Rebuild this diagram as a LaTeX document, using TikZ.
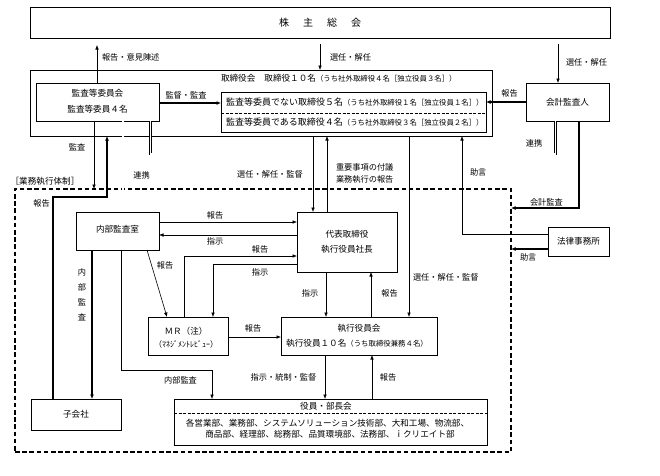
\documentclass[tikz,border=0pt]{standalone}
\usepackage{fontspec}
\setmainfont{Noto Sans CJK JP}
\usetikzlibrary{arrows.meta}
\newcommand\tinyj{\fontsize{7.4}{8}\selectfont}
\begin{document}
\begin{tikzpicture}[x=1pt,y=-1pt,
  every node/.style={font=\fontsize{8.6}{10}\selectfont, inner sep=0pt, outer sep=0pt},
  box/.style={draw, line width=0.7pt},
  ln/.style={line width=0.6pt},
  arr/.style={line width=0.6pt, -{Latex[length=4.5pt,width=3.6pt]}},
  tarr/.style={line width=1.3pt, -{Latex[length=4.5pt,width=4pt]}},
  dbl/.style={double, double distance=1.8pt, line width=0.5pt},
  divl/.style={line width=0.6pt, dash pattern=on 3pt off 1.5pt},
  lbl/.style={font=\fontsize{8.2}{10}\selectfont},
  rowt/.style={font=\fontsize{9}{10}\selectfont}
]
\useasboundingbox[fill=white] (0,0) rectangle (660,475);

% ---------- boxes ----------
\node[box, minimum width=580pt, minimum height=31pt] (sh) at (320,22.5)
  {\fontsize{10}{12}\selectfont 株\hspace{14pt}主\hspace{14pt}総\hspace{14pt}会};
\node[box, minimum width=462pt, minimum height=66pt] (board) at (261,103) {};
\node[anchor=west] (bt) at (221,78)
  {取締役会\hspace{9pt}取締役１０名{\tinyj（うち社外取締役４名［独立役員３名］）}};
\node[box, fill=white, minimum width=123pt, minimum height=38pt] (cmte) at (97.5,102) {};
\node (cmte1) at (97.5,93) {監査等委員会};
\node (cmte2) at (97.5,109) {監査等委員４名};
\node[box, minimum width=265pt, minimum height=40pt] (inner) at (353.5,112) {};
\draw[divl] (inner.west |- 0,113) -- (inner.east |- 0,113);
\node[rowt, anchor=west] (in1) at (226,102.5)
  {監査等委員でない取締役５名{\tinyj（うち社外取締役１名［独立役員１名］）}};
\node[rowt, anchor=west] (in2) at (226,122.5)
  {監査等委員である取締役４名{\tinyj（うち社外取締役３名［独立役員２名］）}};
\node[box, minimum width=83pt, minimum height=38pt] (aud) at (567.5,102) {会計監査人};

\node[draw, line width=1.3pt, dash pattern=on 4.5pt off 2.7pt,
      minimum width=496pt, minimum height=263pt] (dbox) at (263,320.5) {};
\node (dlabel) at (45,181) {［業務執行体制］};

\node[box, minimum width=83pt, minimum height=38pt] (ia) at (117.5,231) {};
\node (iat) at (117.5,229.5) {内部監査室};
\node[box, minimum width=100pt, minimum height=60pt] (ceo) at (347,242) {};
\node (ceo1) at (347,234) {代表取締役};
\node (ceo2) at (347,249) {執行役員社長};
\node[box, minimum width=61pt, minimum height=29pt] (law) at (578.5,241.5) {法律事務所};
\node[box, minimum width=80pt, minimum height=38pt] (mr) at (188,336) {};
\node (mr1) at (186,331.5) {ＭＲ（注）};
\node (mr2) at (186,344) {\fontsize{8}{9}\selectfont（ﾏﾈｼﾞﾒﾝﾄﾚﾋﾞｭｰ）};
\node[box, minimum width=156pt, minimum height=38pt] (exec) at (359,336) {};
\node (ex1) at (359,328) {執行役員会};
\node (ex2) at (357,343) {執行役員１０名{\tinyj（うち取締役兼務４名）}};
\node[box, minimum width=90pt, minimum height=31pt] (sub) at (76,414.5) {子会社};
\node[box, minimum width=313pt, minimum height=46pt] (dept) at (330.5,422) {};
\draw[divl] (dept.west |- 0,413) -- (dept.east |- 0,413);
\node (dp0) at (326,406.5) {役員・部長会};
\node (dp1) at (327.5,423) {各営業部、業務部、システムソリューション技術部、大和工場、物流部、};
\node (dp2) at (330,434) {商品部、経理部、総務部、品質環境部、法務部、ｉクリエイト部};

% ---------- connectors: top ----------
\draw[arr, shorten >=7pt] (cmte.north -| 97,0) -- (sh.south -| 97,0);
\node[lbl, anchor=west] (l1) at (102,57) {報告・意見陳述};
\draw[arr, shorten <=6pt] (sh.south -| 320,0) -- (board.north -| 320,0);
\node[lbl, anchor=west] (l2) at (330,57) {選任・解任};
\draw[arr, shorten <=6pt] (sh.south -| 558,0) -- (aud.north -| 558,0);
\node[lbl, anchor=west] (l3) at (566,62) {選任・解任};

\draw[tarr] (cmte.east |- 0,103) -- (inner.west |- 0,103);
\node[lbl] (l4) at (186,95) {監督・監査};
\draw[tarr] (aud.west) -- (aud.west -| inner.east);
\node[lbl] (l5) at (509.5,93) {報告};

% ---------- committee links ----------
\draw[arr] (cmte.south -| 94,0) -- (dbox.north -| 94,0);
\node[lbl] (l6) at (77,147) {監査};
\draw[tarr] (sub.north -| 53,0) -- (53,197) -- (107,197) -- (board.south -| 107,0);
\node[lbl] (l7) at (41.5,203) {報告};
\draw[dbl] (cmte.south -| 123,0) -- (ia.north -| 123,0);
\node[lbl] (l8) at (141.5,175) {連携};
\draw[dbl] (cmte.south -| 150.5,0) -- (150.5,154) -- (555.5,154) -- (aud.south -| 555.5,0);
\node[lbl] (l9) at (534,143) {連携};

% ---------- board <-> execution ----------
\draw[arr] (board.south -| 313,0) -- (ceo.north -| 313,0);
\node[lbl] (l10) at (270,174) {選任・解任・監督};
\draw[arr] (ceo.north -| 327,0) -- (board.south -| 327,0);
\node[lbl, anchor=west] (l11a) at (336,167) {重要事項の付議};
\node[lbl, anchor=west] (l11b) at (336,179) {業務執行の報告};
\draw[arr] (board.south -| 409,0) -- (exec.north -| 409,0);
\node[lbl, anchor=west] (l12) at (413,277) {選任・解任・監督};
\draw[arr] (law.west |- 0,234) -- (462,234) -- (board.south -| 462,0);
\node[lbl, anchor=west] (l13) at (470,172) {助言};
\draw[tarr] (aud.south -| 579,0) -- (579,208) -- (dbox.east |- 0,208);
\node[lbl, anchor=west] (l14) at (530,202) {会計監査};
\draw[tarr] (law.west |- 0,249) -- (dbox.east |- 0,249);
\node[lbl, anchor=west] (l15) at (520,257) {助言};

% ---------- internal ----------
\draw[arr] (ia.east |- 0,222) -- (ceo.west |- 0,222);
\node[lbl] (l16) at (215,215) {報告};
\draw[arr] (ceo.west |- 0,235) -- (ia.east |- 0,235);
\node[lbl] (l17) at (215,241) {指示};
\draw[arr] (mr.north -| 184,0) -- (184,256) -- (ceo.west |- 0,256);
\node[lbl] (l18) at (260,249) {報告};
\draw[arr] (ceo.west |- 0,264) -- (213,264) -- (mr.north -| 213,0);
\node[lbl] (l19) at (260,272) {指示};
\draw[arr] (ia.south -| 147,0) -- (mr.north -| 167,0);
\node[lbl] (l20) at (165,265) {報告};
\draw[arr] (mr.east |- 0,337) -- (exec.west |- 0,337);
\node[lbl] (l21) at (253,328) {報告};
\draw[arr] (ceo.south -| 326,0) -- (exec.north -| 326,0);
\node[lbl] (l22) at (310,293) {指示};
\draw[arr] (exec.north -| 371,0) -- (ceo.south -| 371,0);
\node[lbl] (l23) at (389.5,293) {報告};
\draw[tarr] (ia.south -| 92,0) -- (sub.north -| 92,0);
\node[lbl, align=center, font=\fontsize{8.2}{15}\selectfont] (l24) at (82,294.5) {内\\部\\監\\査};
\draw[arr] (ia.south -| 121,0) -- (121,370) -- (212,370) -- (dept.north -| 212,0);
\node[lbl] (l25) at (180.5,380) {内部監査};
\draw[arr] (exec.south -| 325,0) -- (dept.north -| 325,0);
\node[lbl] (l26) at (283.5,377) {指示・統制・監督};
\draw[arr] (dept.north -| 372,0) -- (exec.south -| 372,0);
\node[lbl] (l27) at (388,377) {報告};
\end{tikzpicture}
\end{document}
